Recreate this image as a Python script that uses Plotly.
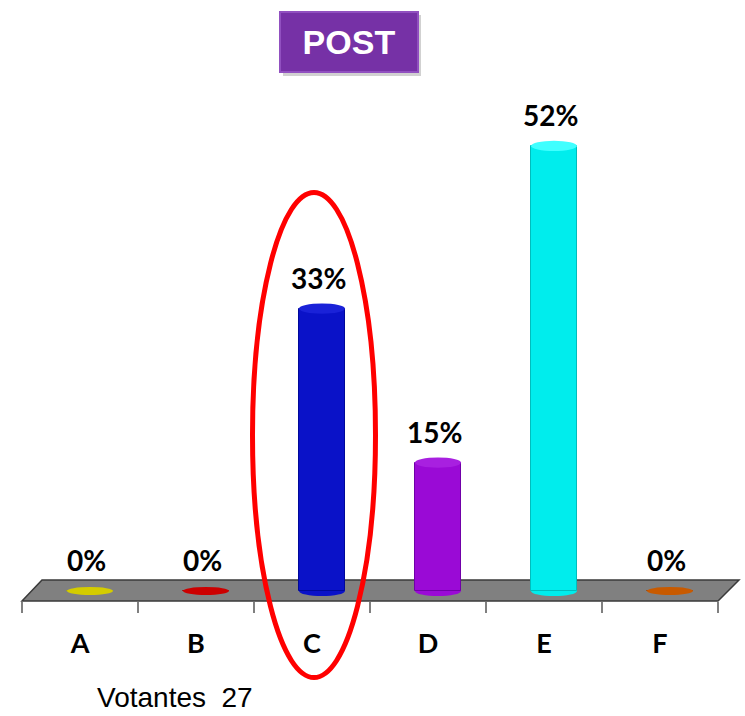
import plotly.graph_objects as go

categories = ["A", "B", "C", "D", "E", "F"]
values = [0, 0, 33, 15, 52, 0]
labels = ["0%", "0%", "33%", "15%", "52%", "0%"]
bar_colors = ["#D4CC00", "#CC0000", "#0A12C8", "#9A0AD6", "#00EDED", "#C85A00"]
edge_colors = ["#B0A800", "#A00000", "#00089A", "#7000A8", "#00BDBD", "#A04000"]
cap_colors = ["#E6E000", "#DD1010", "#1A22D8", "#A820E0", "#40FFFF", "#D86A10"]
title_text = "POST"
voters_text = "Votantes\u00a0\u00a027"

W, H = 745, 716
ML, MR, MT, MB = 22, 27, 100, 115
YMIN, YMAX = -1.17, 57.36
OFF = 0.086      # 3D perspective shift of bars (category units)
HW = 0.198       # half bar width

def px(xp):
    return (xp - ML) / (W - ML - MR)

def py(yp):
    return (H - MB - yp) / (H - MT - MB)

fig = go.Figure()
fig.add_trace(go.Bar(
    x=categories, y=values,
    marker=dict(color=bar_colors, line=dict(width=1, color=edge_colors)),
    width=2 * HW, offset=OFF - HW, hoverinfo="skip", showlegend=False,
))

shapes = []
# floor (3D plane)
shapes.append(dict(
    type="path", xref="paper", yref="paper", layer="below",
    path=f"M {px(22)},{py(601)} L {px(42)},{py(580)} L {px(739)},{py(580)} L {px(718)},{py(601)} Z",
    fillcolor="#808080", line=dict(color="#3a3a3a", width=1.5),
))
for i, (v, c, cc) in enumerate(zip(values, bar_colors, cap_colors)):
    x0, x1 = i + OFF - HW, i + OFF + HW
    if v > 0:
        shapes.append(dict(type="circle", xref="x", yref="y", layer="below",
                           x0=x0, x1=x1, y0=-0.6, y1=0.6, fillcolor=c, line=dict(width=0)))
        shapes.append(dict(type="circle", xref="x", yref="y", layer="above",
                           x0=x0, x1=x1, y0=v - 0.6, y1=v + 0.6, fillcolor=cc, line=dict(width=0)))
    else:
        shapes.append(dict(type="circle", xref="x", yref="y", layer="above",
                           x0=x0, x1=x1, y0=-0.47, y1=0.47, fillcolor=c, line=dict(width=0)))
# red highlight ellipse
shapes.append(dict(type="circle", xref="paper", yref="paper", layer="above",
                   x0=px(252.5), x1=px(375.5), y0=py(677.5), y1=py(192.5),
                   line=dict(color="#FF0000", width=5), fillcolor="rgba(0,0,0,0)"))
# shadow of the title box
shapes.append(dict(type="rect", xref="paper", yref="paper", layer="below",
                   x0=px(283), x1=px(421), y0=py(76), y1=py(15),
                   fillcolor="rgba(0,0,0,0.18)", line=dict(width=0)))

annotations = []
for i, (v, t) in enumerate(zip(values, labels)):
    annotations.append(dict(x=i, y=v, xref="x", yref="y", text=f"<b>{t}</b>",
                            showarrow=False, yanchor="bottom", yshift=12, xshift=6,
                            font=dict(family="Lato", size=28, color="#000000")))
annotations.append(dict(x=px(349), y=py(42), xref="paper", yref="paper",
                        xanchor="center", yanchor="middle",
                        text=f"<b>{title_text}</b>", showarrow=False,
                        width=134, height=56, bgcolor="#7631A6",
                        bordercolor="#9150C0", borderwidth=2,
                        font=dict(family="Liberation Sans", size=34, color="#FFFFFF")))
annotations.append(dict(x=px(95), y=py(697), xref="paper", yref="paper",
                        text=voters_text, showarrow=False, xanchor="left", yanchor="middle",
                        font=dict(family="Liberation Sans", size=28, color="#000000")))

fig.update_layout(
    width=W, height=H, margin=dict(l=ML, r=MR, t=MT, b=MB),
    plot_bgcolor="#FFFFFF", paper_bgcolor="#FFFFFF",
    shapes=shapes, annotations=annotations, bargap=0,
    xaxis=dict(type="category", range=[-0.5, 5.5], tickson="boundaries",
               ticks="outside", ticklen=11, tickcolor="#808080", tickwidth=1.5,
               showgrid=False, showline=False, zeroline=False,
               tickfont=dict(family="Lato", size=27, color="#000000"),
               ticklabelstandoff=24, fixedrange=True),
    yaxis=dict(range=[YMIN, YMAX], visible=False, showgrid=False, zeroline=False),
)
fig.update_xaxes(ticktext=[f"<b>{c}</b>" for c in categories], tickvals=categories)
fig.update_traces(cliponaxis=False)

fig.write_html("out.html", config={"displayModeBar": False},
               post_script="document.body.style.margin='0';document.body.style.overflow='hidden';")
